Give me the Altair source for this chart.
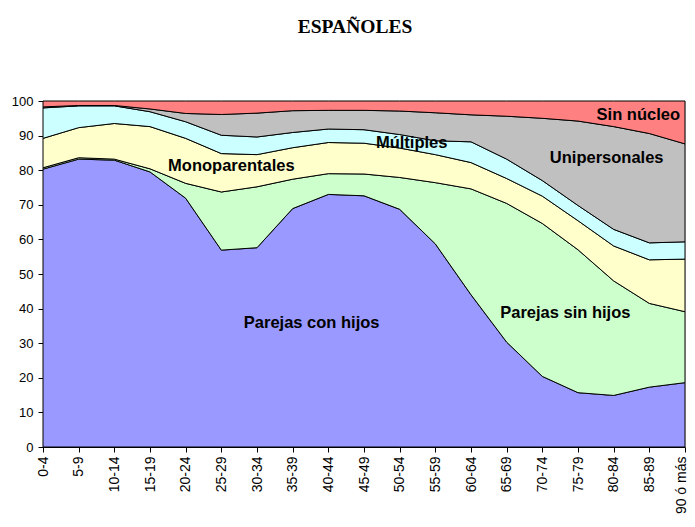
import altair as alt
import pandas as pd

categories = ["0-4", "5-9", "10-14", "15-19", "20-24", "25-29", "30-34", "35-39",
              "40-44", "45-49", "50-54", "55-59", "60-64", "65-69", "70-74",
              "75-79", "80-84", "85-89", "90 ó más"]

series_names = ["Parejas con hijos", "Parejas sin hijos", "Monoparentales",
                "Múltiples", "Unipersonales", "Sin núcleo"]

parejas_con_hijos = [80.3, 83.2, 82.9, 79.5, 71.9, 56.9, 57.6, 68.9, 73.0, 72.6,
                     68.7, 58.7, 44.0, 30.3, 20.4, 15.7, 14.9, 17.3, 18.6]
parejas_sin_hijos = [0.4, 0.4, 0.3, 0.9, 4.3, 16.8, 17.6, 8.5, 6.0, 6.3,
                     9.2, 17.7, 30.6, 40.1, 44.2, 41.3, 33.1, 24.2, 20.5]
monoparentales = [8.5, 8.7, 10.3, 12.2, 13.0, 11.1, 9.3, 9.1, 9.0, 8.9,
                  8.5, 8.1, 7.6, 7.2, 7.9, 8.4, 10.1, 12.6, 15.2]
multiples = [8.8, 6.3, 5.1, 4.3, 4.8, 5.3, 5.1, 4.4, 3.9, 3.9,
             3.9, 4.0, 6.0, 5.6, 4.5, 4.4, 4.8, 4.9, 5.0]
unipersonales = [0.3, 0.1, 0.1, 0.8, 2.4, 6.0, 6.9, 6.3, 5.4, 5.6,
                 6.8, 8.1, 7.8, 12.4, 18.0, 24.4, 29.7, 31.6, 28.3]
sin_nucleo = [1.7, 1.3, 1.3, 2.3, 3.6, 3.9, 3.5, 2.8, 2.7, 2.7,
              2.9, 3.4, 4.0, 4.4, 5.0, 5.8, 7.4, 9.4, 12.4]

colors = ["#9999FF", "#CCFFCC", "#FFFFCC", "#CCFFFF", "#C0C0C0", "#FF8080"]

y_ticks = [0, 10, 20, 30, 40, 50, 60, 70, 80, 90, 100]

# in-chart labels: text, anchor category, value
label_texts = ["Parejas con hijos", "Parejas sin hijos", "Monoparentales",
               "Múltiples", "Unipersonales", "Sin núcleo"]
label_cats = ["35-39", "70-74", "25-29", "50-54", "80-84", "85-89"]
label_vals = [35.8, 38.8, 81.1, 87.8, 83.5, 95.9]
label_dx = [19, 23, 10, 12, -7, -11]

all_series = [parejas_con_hijos, parejas_sin_hijos, monoparentales,
              multiples, unipersonales, sin_nucleo]

rows = []
for si, (name, vals) in enumerate(zip(series_names, all_series)):
    for cat, v in zip(categories, vals):
        rows.append({"grupo": cat, "tipo": name, "valor": v, "orden": si})
df = pd.DataFrame(rows)

last_cat = categories[-1]
x_axis = alt.Axis(title=None, labelAngle=-90, labelFont="Liberation Sans",
                  labelFontSize=14, labelColor="black", domainColor="black",
                  tickColor="black", tickSize=5, labelPadding=4, labelLimit=200,
                  labelBaseline={"condition": {"test": f"datum.value == '{last_cat}'",
                                               "value": "alphabetic"},
                                 "value": "middle"})
y_axis = alt.Axis(title=None, values=y_ticks, grid=False,
                  labelFont="Liberation Sans", labelFontSize=13,
                  labelColor="black", domainColor="black",
                  tickColor="black", tickSize=5, labelPadding=5)
x_scale = alt.Scale(type="point", padding=0)
y_scale = alt.Scale(domain=[0, 100], nice=False)

areas = alt.Chart(df).mark_area(stroke="black", strokeWidth=1, interpolate="linear",
                                opacity=1).encode(
    x=alt.X("grupo:N", sort=categories, scale=x_scale, axis=x_axis),
    y=alt.Y("valor:Q", stack="zero", scale=y_scale, axis=y_axis),
    color=alt.Color("tipo:N", scale=alt.Scale(domain=series_names, range=colors),
                    legend=None),
    order=alt.Order("orden:Q", sort="ascending"),
)

layers = [areas]
for t, c, v, dx in zip(label_texts, label_cats, label_vals, label_dx):
    ldf = pd.DataFrame({"grupo": [c], "valor": [v], "texto": [t]})
    layers.append(
        alt.Chart(ldf).mark_text(font="Liberation Sans", fontSize=16.5, fontWeight="bold",
                                 color="black", dx=dx, align="center",
                                 baseline="middle").encode(
            x=alt.X("grupo:N", sort=categories, scale=x_scale, axis=x_axis),
            y=alt.Y("valor:Q", scale=y_scale, axis=y_axis),
            text="texto:N",
        )
    )

chart = alt.layer(*layers).properties(
    width=642,
    height=346,
    title=alt.TitleParams("ESPAÑOLES", font="Liberation Serif", fontSize=19.5,
                          fontWeight="bold", color="black", anchor="middle",
                          offset=58, dx=-9),
    autosize=alt.AutoSizeParams(type="none"),
    padding={"left": 35, "top": 93, "right": 2, "bottom": 72},
).configure_view(stroke="black", strokeWidth=1).configure(background="white")

chart.save("out.html", embed_options={"renderer": "svg", "actions": False})
